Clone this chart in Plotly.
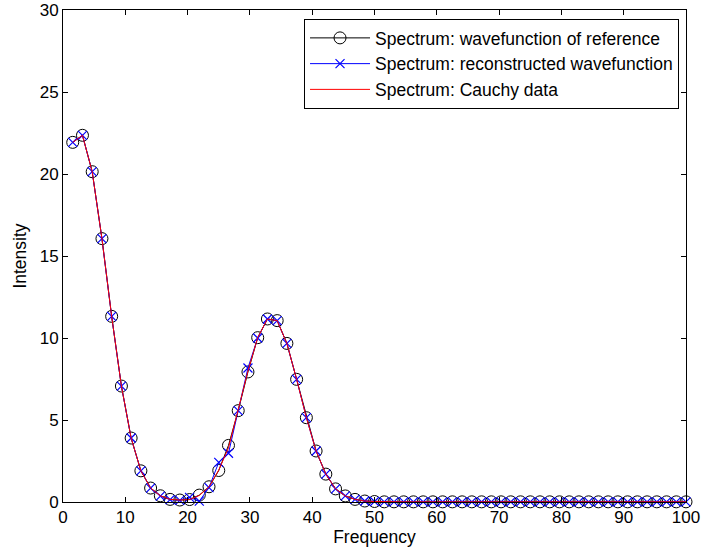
import plotly.graph_objects as go

frequency = [1.5625, 3.125, 4.6875, 6.25, 7.8125, 9.375, 10.9375, 12.5, 14.0625, 15.625,
             17.1875, 18.75, 20.3125, 21.875, 23.4375, 25.0, 26.5625, 28.125, 29.6875, 31.25,
             32.8125, 34.375, 35.9375, 37.5, 39.0625, 40.625, 42.1875, 43.75, 45.3125, 46.875,
             48.4375, 50.0, 51.5625, 53.125, 54.6875, 56.25, 57.8125, 59.375, 60.9375, 62.5,
             64.0625, 65.625, 67.1875, 68.75, 70.3125, 71.875, 73.4375, 75.0, 76.5625, 78.125,
             79.6875, 81.25, 82.8125, 84.375, 85.9375, 87.5, 89.0625, 90.625, 92.1875, 93.75,
             95.3125, 96.875, 98.4375, 100.0]

tail = [0.01] * 32

reference = [21.93, 22.36, 20.14, 16.06, 11.32, 7.07, 3.90, 1.90, 0.85, 0.38,
             0.16, 0.12, 0.15, 0.42, 0.93, 1.92, 3.45, 5.57, 7.93, 10.02,
             11.16, 11.06, 9.67, 7.48, 5.14, 3.11, 1.70, 0.80, 0.37, 0.16,
             0.06, 0.03] + tail

reconstructed = [21.93, 22.36, 20.14, 16.06, 11.32, 7.07, 3.90, 1.90, 0.85, 0.36,
                 0.14, 0.10, 0.28, 0.05, 0.88, 2.42, 2.97, 5.57, 8.17, 10.00,
                 11.16, 11.06, 9.67, 7.48, 5.14, 3.11, 1.70, 0.80, 0.37, 0.16,
                 0.06, 0.03] + tail

cauchy = [21.93, 22.36, 20.14, 16.06, 11.32, 7.07, 3.90, 1.90, 0.85, 0.38,
          0.16, 0.12, 0.15, 0.40, 0.92, 1.95, 3.30, 5.57, 7.98, 10.02,
          11.16, 11.06, 9.67, 7.48, 5.14, 3.11, 1.70, 0.80, 0.37, 0.16,
          0.06, 0.03] + tail

x_ticks = [0, 10, 20, 30, 40, 50, 60, 70, 80, 90, 100]
y_ticks = [0, 5, 10, 15, 20, 25, 30]

FONT = "Liberation Sans, Arial, Helvetica, sans-serif"

fig = go.Figure()
fig.add_trace(go.Scatter(
    x=frequency, y=reference, mode="lines+markers",
    name="Spectrum: wavefunction of reference",
    line=dict(color="black", width=1),
    marker=dict(symbol="circle-open", size=12, color="black", line=dict(width=1, color="black")),
    cliponaxis=False,
))
fig.add_trace(go.Scatter(
    x=frequency, y=reconstructed, mode="lines+markers",
    name="Spectrum: reconstructed wavefunction",
    line=dict(color="blue", width=1),
    marker=dict(symbol="x-thin", size=9, color="blue", line=dict(width=1.2, color="blue")),
    cliponaxis=False,
))
fig.add_trace(go.Scatter(
    x=frequency, y=cauchy, mode="lines",
    name="Spectrum: Cauchy data",
    line=dict(color="red", width=1),
    cliponaxis=False,
))

axis_common = dict(
    showline=True, linecolor="black", linewidth=1, mirror="ticks",
    ticks="inside", ticklen=5, tickcolor="black", tickwidth=1,
    showgrid=False, zeroline=False, automargin=False,
    tickfont=dict(family=FONT, size=17, color="black"),
)

fig.update_layout(
    width=701, height=557,
    margin=dict(l=63, r=15, t=10, b=55),
    paper_bgcolor="white", plot_bgcolor="white",
    font=dict(family=FONT, size=17, color="black"),
    xaxis=dict(range=[0, 100], tickvals=x_ticks,
               title=dict(text="Frequency", font=dict(family=FONT, size=17.5), standoff=3),
               **axis_common),
    yaxis=dict(range=[0, 30], tickvals=y_ticks,
               title=dict(text="Intensity", font=dict(family=FONT, size=17.5), standoff=8),
               **axis_common),
    legend=dict(x=0.9888, y=0.9817, xanchor="right", yanchor="top",
                bgcolor="white", bordercolor="black", borderwidth=1,
                font=dict(family=FONT, size=17.5), tracegroupgap=0,
                itemwidth=60),
    showlegend=True,
)

fig.write_html("out.html")
